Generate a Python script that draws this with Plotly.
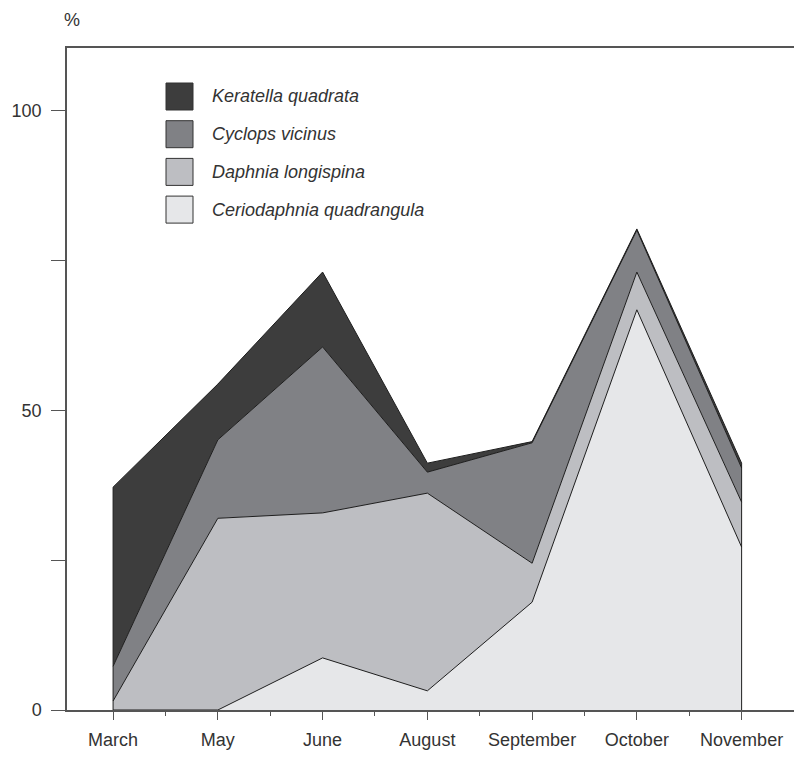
import plotly.graph_objects as go

# Sampling months and share (%) of each zooplankton species
months = ["March", "May", "June", "August", "September", "October", "November"]
ceriodaphnia = [0.0, 0.0, 8.7, 3.2, 18.0, 66.8, 27.2]
daphnia = [1.5, 32.0, 24.2, 33.0, 6.5, 6.3, 7.5]
cyclops = [5.8, 13.1, 27.7, 3.5, 20.1, 7.0, 5.7]
keratella = [29.9, 9.3, 12.5, 1.5, 0.2, 0.2, 0.8]

# Bottom-to-top stacking order
species = [
    ("Ceriodaphnia quadrangula", ceriodaphnia, "#e6e7e9"),
    ("Daphnia longispina", daphnia, "#bdbec2"),
    ("Cyclops vicinus", cyclops, "#808185"),
    ("Keratella quadrata", keratella, "#3d3d3d"),
]

y_ticks = [0, 25, 50, 75, 100]
y_tick_text = ["0", "", "50", "", "100"]

FONT = "Liberation Sans, Arial, sans-serif"
TEXT = "#333333"
AXIS = "#555555"

x_idx = list(range(len(months)))

fig = go.Figure()
for name, values, color in species:
    fig.add_trace(go.Scatter(
        x=x_idx, y=values, name=name, mode="lines",
        stackgroup="one", fillcolor=color,
        line=dict(color="#1e1e1e", width=1),
        showlegend=False, hoverinfo="skip",
    ))

# Closing edges of the stacked area at the first and last month
totals = [sum(v[i] for _, v, _ in species) for i in x_idx]
for i in (x_idx[0], x_idx[-1]):
    fig.add_trace(go.Scatter(
        x=[i, i], y=[0, totals[i]], mode="lines",
        line=dict(color="#1e1e1e", width=1),
        showlegend=False, hoverinfo="skip",
    ))

# Legend: swatches and italic labels, top layer first
W, H = 794, 758
ML, MR, MT, MB = 67, 0, 48, 48
pw, ph = W - ML - MR, H - MT - MB

def px_x(px):
    return (px - ML) / pw

def px_y(py):
    return (H - MB - py) / ph

row_top = 83
row_step = 37.7
sw = 27
for k, (name, values, color) in enumerate(reversed(species)):
    top = row_top + k * row_step
    fig.add_shape(
        type="rect", xref="paper", yref="paper",
        x0=px_x(166), x1=px_x(166 + sw),
        y0=px_y(top + sw), y1=px_y(top),
        fillcolor=color, line=dict(color="#333333", width=1),
    )
    fig.add_annotation(
        xref="paper", yref="paper", x=px_x(210), y=px_y(top + sw / 2),
        text=f"<i>{name}</i>", showarrow=False,
        xanchor="left", yanchor="middle",
        font=dict(family=FONT, size=18, color=TEXT),
    )

fig.add_annotation(
    xref="paper", yref="paper", x=0, y=1, xshift=5, yshift=28,
    text="%", showarrow=False, xanchor="center", yanchor="middle",
    font=dict(family=FONT, size=18, color=TEXT),
)

fig.update_layout(
    width=W, height=H,
    margin=dict(l=ML, r=MR, t=MT, b=MB),
    paper_bgcolor="white", plot_bgcolor="white",
    font=dict(family=FONT, size=18, color=TEXT),
    showlegend=False,
)

fig.update_xaxes(
    range=[-0.44, 6.5],
    tickmode="array", tickvals=x_idx, ticktext=months,
    ticks="outside", ticklen=8, tickwidth=1.2, tickcolor=AXIS,
    ticklabelstandoff=5,
    minor=dict(ticks="outside", ticklen=4, tickwidth=1, tickcolor=AXIS,
               tick0=0.5, dtick=1, showgrid=False),
    showline=True, linecolor=AXIS, linewidth=1.5, mirror=True,
    showgrid=False, zeroline=False,
    tickfont=dict(family=FONT, size=18, color=TEXT),
)
fig.update_yaxes(
    range=[0, 110.5],
    tickmode="array", tickvals=y_ticks, ticktext=y_tick_text,
    ticks="outside", ticklen=14, tickwidth=1.2, tickcolor=AXIS,
    ticklabelstandoff=6,
    showline=True, linecolor=AXIS, linewidth=1.5,
    showgrid=False, zeroline=False,
    tickfont=dict(family=FONT, size=18, color=TEXT),
)

fig.write_html("out.html")
